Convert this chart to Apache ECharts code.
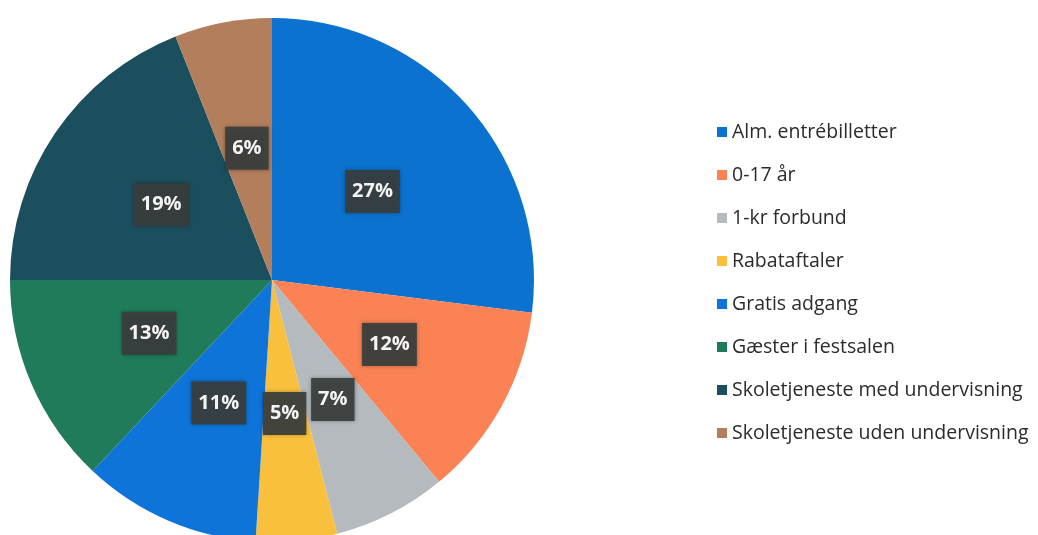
<!DOCTYPE html>
<html>
<head>
<meta charset="UTF-8">
<title></title>
<script src="https://cdn.jsdelivr.net/npm/echarts@6/dist/echarts.min.js"></script>
<style>
html,body{margin:0;padding:0;background:#fff;}
#main{width:1038px;height:535px;}
</style>
</head>
<body>
<div id="main"></div>
<script type="text/javascript">
// andele i procent
var categories = ['Alm. entrébilletter', '0-17 år', '1-kr forbund', 'Rabataftaler', 'Gratis adgang', 'Gæster i festsalen', 'Skoletjeneste med undervisning', 'Skoletjeneste uden undervisning'];
var values = [27, 12, 7, 5, 11, 13, 19, 6];
var colors = ['#0b72cf', '#fa8254', '#b5babf', '#f8c03c', '#0e74d9', '#1f7b5a', '#1b4f5e', '#b37e5c'];

var chart = echarts.init(document.getElementById('main'));

var data = [];
for (var i = 0; i < categories.length; i++) {
	data.push({name: categories[i], value: values[i], itemStyle: {color: colors[i]}});
}

chart.setOption({
	backgroundColor: '#ffffff',
	animation: false,
	legend: {
		orient: 'vertical',
		left: 712,
		top: 117,
		icon: 'rect',
		itemWidth: 10,
		itemHeight: 10,
		itemGap: 23,
		textStyle: {fontFamily: 'Open Sans', fontSize: 19.5, color: '#2b2b2b', lineHeight: 20}
	},
	series: [{
		type: 'pie',
		center: [272, 280],
		radius: 262,
		startAngle: 90,
		data: data,
		itemStyle: {borderWidth: 0},
		labelLine: {show: false},
		label: {
			show: true,
			position: 'inside',
			formatter: '{c}%',
			fontFamily: 'Open Sans',
			fontWeight: 'bold',
			fontSize: 20,
			color: '#f4f4f4',
			backgroundColor: 'rgba(58,62,61,0.92)',
			padding: [12, 7, 11, 7],
			shadowColor: 'rgba(0,0,0,0.35)',
			shadowBlur: 4
		},
		emphasis: {disabled: true}
	}]
});
</script>
</body>
</html>
